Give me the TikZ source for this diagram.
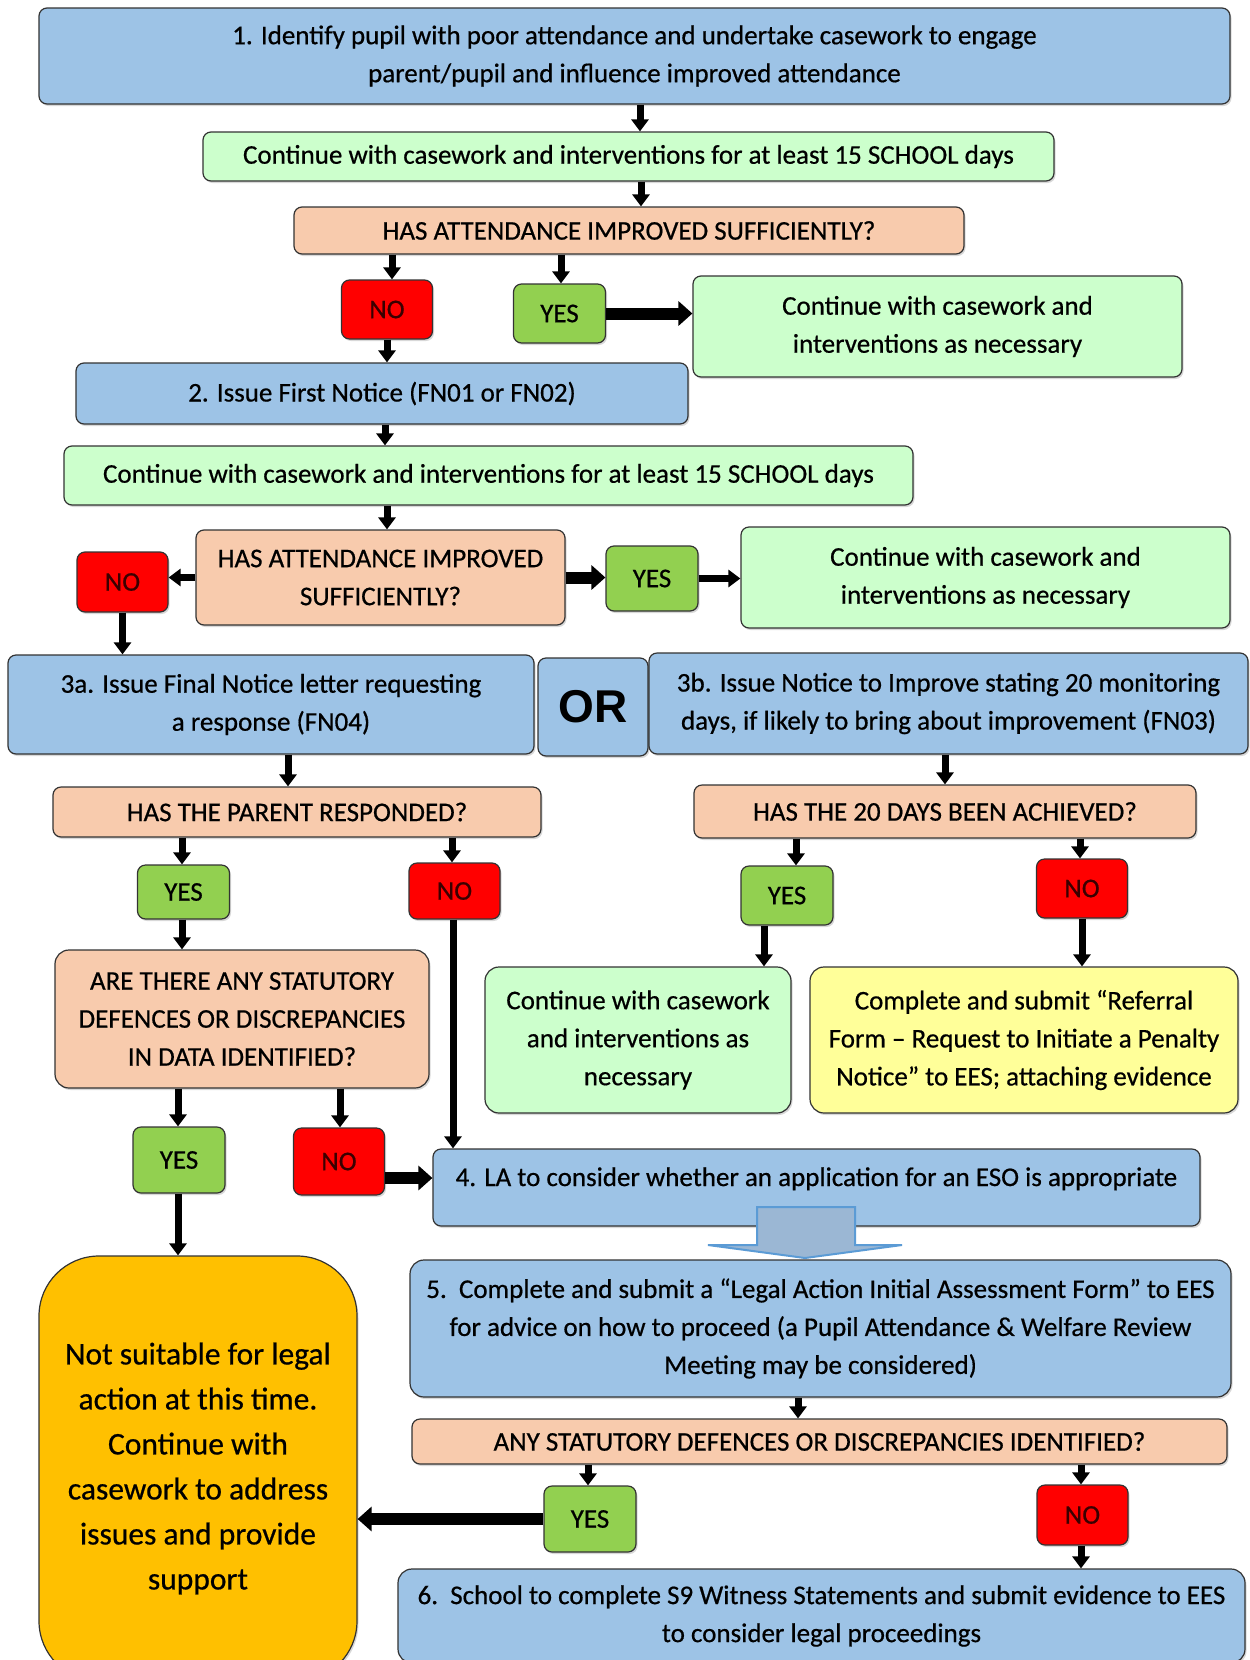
\documentclass[tikz,border=0pt]{standalone}
\usepackage{fontspec}
\setmainfont{Carlito}[FakeBold=0.6]
\newfontfamily\orfont{Liberation Sans}
\usetikzlibrary{arrows.meta, shadows}

\definecolor{noticeblue}{HTML}{9DC3E6}
\definecolor{mintgreen}{HTML}{CCFFCC}
\definecolor{peach}{HTML}{F8CBAD}
\definecolor{yesgreen}{HTML}{92D050}
\definecolor{paleyellow}{HTML}{FFFF99}
\definecolor{amber}{HTML}{FFC000}
\definecolor{notext}{HTML}{3A0000}
\definecolor{shaftblue}{HTML}{9BB7D4}
\definecolor{edgeblue}{HTML}{5B9BD5}

\begin{document}
\begin{tikzpicture}[x=1pt, y=-1pt,
    base/.style={rectangle, rounded corners=8pt, draw=black!80, line width=1.2pt,
                 align=center, inner sep=2pt,
                 font=\fontsize{27}{38}\selectfont,
                 drop shadow={opacity=0.3, shadow xshift=1.5pt, shadow yshift=-2pt}},
    stepbox/.style={base, fill=noticeblue},
    workbox/.style={base, fill=mintgreen},
    askbox/.style={base, fill=peach},
    yesbox/.style={base, fill=yesgreen, minimum width=92pt},
    nobox/.style={base, fill=red, text=notext, minimum width=91pt},
    arr/.style={line width=7pt, -{Triangle[width=17pt,length=12pt]}},
    fatarr/.style={line width=12pt, -{Triangle[width=24pt,length=14pt]}}
]
\fill[white] (0,0) rectangle (1250,1660);
\useasboundingbox (0,0) rectangle (1250,1660);

% stage 1
\node[stepbox, minimum width=1191pt, minimum height=96pt] (s1) at (634.5,56)
    {1. Identify pupil with poor attendance and undertake casework to engage\\parent/pupil and influence improved attendance};
\node[workbox, minimum width=851pt, minimum height=49pt] (c1) at (628.5,156.5)
    {Continue with casework and interventions for at least 15 SCHOOL days};
\node[askbox, minimum width=670pt, minimum height=47pt] (q1) at (629,230.5)
    {HAS ATTENDANCE IMPROVED SUFFICIENTLY?};
\node[nobox, minimum height=59pt] (no1) at (387,309.5) {NO};
\node[yesbox, minimum height=59pt] (yes1) at (559.5,313.5) {YES};
\node[workbox, minimum width=489pt, minimum height=101pt] (ok1) at (937.5,326.5)
    {Continue with casework and\\interventions as necessary};

% stage 2
\node[stepbox, minimum width=612pt, minimum height=61pt] (s2) at (382,393.5)
    {2. Issue First Notice (FN01 or FN02)};
\node[workbox, minimum width=849pt, minimum height=59pt] (c2) at (488.5,475.5)
    {Continue with casework and interventions for at least 15 SCHOOL days};
\node[askbox, minimum width=369pt, minimum height=95pt] (q2) at (380.5,577.5)
    {HAS ATTENDANCE IMPROVED\\SUFFICIENTLY?};
\node[nobox, minimum height=60pt] (no2) at (122.5,582) {NO};
\node[yesbox, minimum height=65pt] (yes2) at (652,578.5) {YES};
\node[workbox, minimum width=489pt, minimum height=101pt] (ok2) at (985.5,577.5)
    {Continue with casework and\\interventions as necessary};

% stage 3
\node[stepbox, minimum width=526pt, minimum height=99pt] (s3a) at (271,704.5)
    {3a. Issue Final Notice letter requesting\\a response (FN04)};
\node[stepbox, minimum width=110pt, minimum height=98pt, font=\orfont\bfseries\fontsize{46}{50}\selectfont] (or) at (593,707) {OR};
\node[stepbox, minimum width=599pt, minimum height=101pt] (s3b) at (948.5,703.5)
    {3b. Issue Notice to Improve stating 20 monitoring\\days, if likely to bring about improvement (FN03)};
\node[askbox, minimum width=488pt, minimum height=50pt] (q3a) at (297,812)
    {HAS THE PARENT RESPONDED?};
\node[askbox, minimum width=502pt, minimum height=53pt] (q3b) at (945,811.5)
    {HAS THE 20 DAYS BEEN ACHIEVED?};
\node[yesbox, minimum height=54pt] (yes3a) at (183.5,892) {YES};
\node[nobox, minimum height=56pt] (no3a) at (454.5,891) {NO};
\node[yesbox, minimum height=59pt] (yes3b) at (787,895.5) {YES};
\node[nobox, minimum height=59pt] (no3b) at (1082,888.5) {NO};
\node[askbox, minimum width=374pt, minimum height=138pt, rounded corners=14pt] (q4) at (242,1019)
    {ARE THERE ANY STATUTORY\\DEFENCES OR DISCREPANCIES\\IN DATA IDENTIFIED?};
\node[workbox, minimum width=306pt, minimum height=146pt, rounded corners=14pt] (ok3) at (638,1040)
    {Continue with casework\\and interventions as\\necessary};
\node[base, fill=paleyellow, minimum width=428pt, minimum height=146pt, rounded corners=14pt] (refer) at (1024,1040)
    {Complete and submit “Referral\\Form – Request to Initiate a Penalty\\Notice” to EES; attaching evidence};
\node[yesbox, minimum height=66pt] (yes4) at (179,1160) {YES};
\node[nobox, minimum height=67pt] (no4) at (339,1161.5) {NO};

% stages 4 to 6
\node[stepbox, minimum width=767pt, minimum height=77pt, text height=16pt, text depth=19pt] (s4) at (816.5,1187.5)
    {4. LA to consider whether an application for an ESO is appropriate};
\node[stepbox, minimum width=821pt, minimum height=137pt, rounded corners=14pt] (s5) at (820.5,1328.5)
    {5.\ \ Complete and submit a “Legal Action Initial Assessment Form” to EES\\for advice on how to proceed (a Pupil Attendance \& Welfare Review\\Meeting may be considered)};
\node[askbox, minimum width=815pt, minimum height=45pt] (q5) at (819.5,1441.5)
    {ANY STATUTORY DEFENCES OR DISCREPANCIES IDENTIFIED?};
\node[yesbox, minimum height=66pt] (yes5) at (590,1519) {YES};
\node[nobox, minimum height=60pt] (no5) at (1082.5,1515) {NO};
\node[stepbox, minimum width=847pt, minimum height=94pt, rounded corners=14pt] (s6) at (821.5,1616)
    {6.\ \ School to complete S9 Witness Statements and submit evidence to EES\\to consider legal proceedings};
\node[base, fill=amber, minimum width=318pt, minimum height=425pt, rounded corners=60pt,
      font=\fontsize{31.5}{45}\selectfont] (stop) at (198,1468.5)
    {Not suitable for legal\\action at this time.\\Continue with\\casework to address\\issues and provide\\support};

% block arrow from 4 to 5
\filldraw[fill=shaftblue, draw=edgeblue, line width=2pt]
    (757,1207) -- (855,1207) -- (855,1245) -- (902,1245) -- (805,1258) -- (708,1245) -- (757,1245) -- cycle;

% connectors
\draw[arr] (s1.south-|640,0) -- (c1.north-|640,0);
\draw[arr] (c1.south-|641,0) -- (q1.north-|641,0);
\draw[arr] (q1.south-|392,0) -- (no1.north-|392,0);
\draw[arr] (q1.south-|561,0) -- (yes1.north-|561,0);
\draw[fatarr] (yes1.east) -- (ok1.west|-yes1.east);
\draw[arr] (no1.south-|387,0) -- (s2.north-|387,0);
\draw[arr] (s2.south-|385,0) -- (c2.north-|385,0);
\draw[arr] (c2.south-|387,0) -- (q2.north-|387,0);
\draw[arr] (q2.west) -- (no2.east|-q2.west);
\draw[fatarr] (q2.east) -- (yes2.west|-q2.east);
\draw[arr] (yes2.east) -- (ok2.west|-yes2.east);
\draw[arr] (no2.south) -- (s3a.north-|no2.south);
\draw[arr] (s3a.south-|288,0) -- (q3a.north-|288,0);
\draw[arr] (s3b.south-|945,0) -- (q3b.north-|945,0);
\draw[arr] (q3a.south-|182,0) -- (yes3a.north-|182,0);
\draw[arr] (q3a.south-|452,0) -- (no3a.north-|452,0);
\draw[arr] (yes3a.south-|182,0) -- (q4.north-|182,0);
\draw[arr] (q4.south-|178,0) -- (yes4.north-|178,0);
\draw[arr] (q4.south-|340,0) -- (no4.north-|340,0);
\draw[arr] (no3a.south-|453,0) -- (s4.north-|453,0);
\draw[fatarr] (no4.east|-0,1178) -- (s4.west|-0,1178);
\draw[arr] (yes4.south-|178,0) -- (stop.north-|178,0);
\draw[arr] (q3b.south-|796,0) -- (yes3b.north-|796,0);
\draw[arr] (q3b.south-|1080,0) -- (no3b.north-|1080,0);
\draw[arr] (yes3b.south-|764,0) -- (ok3.north-|764,0);
\draw[arr] (no3b.south-|1082,0) -- (refer.north-|1082,0);
\draw[arr] (s5.south-|798,0) -- (q5.north-|798,0);
\draw[arr] (q5.south-|588,0) -- (yes5.north-|588,0);
\draw[arr] (q5.south-|1081,0) -- (no5.north-|1081,0);
\draw[fatarr] (yes5.west) -- (stop.east|-yes5.west);
\draw[arr] (no5.south-|1081,0) -- (s6.north-|1081,0);
\end{tikzpicture}
\end{document}
